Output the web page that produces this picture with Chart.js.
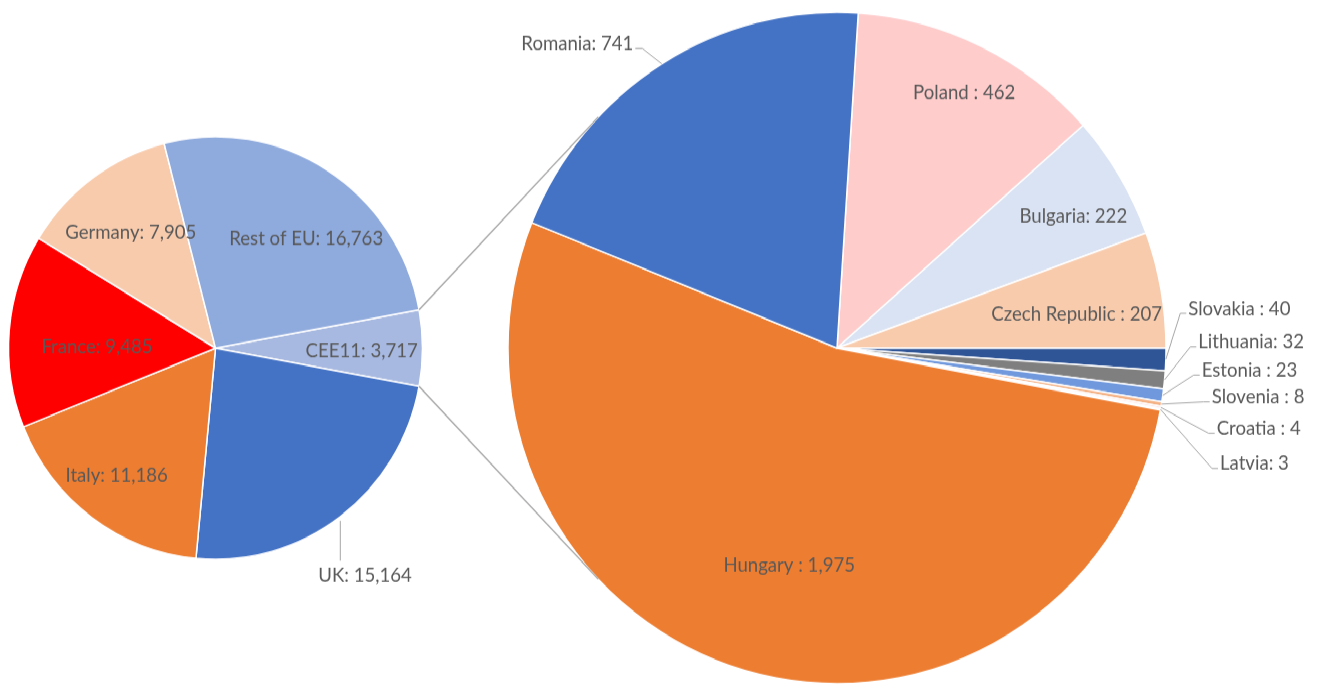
<!DOCTYPE html>
<html><head><meta charset="utf-8">
<script src="https://cdn.jsdelivr.net/npm/chart.js@4.4.1/dist/chart.umd.min.js"></script>
<style>
html,body{margin:0;padding:0;background:#fff;overflow:hidden;width:1321px;height:684px;}
#wrap{position:absolute;left:0;top:0;width:1321px;height:680px;transform:scaleY(1.0209);transform-origin:0 0;}
#wrap canvas{position:absolute;left:0;top:0;}
</style></head><body>
<div id="wrap"><canvas id="cee" width="1321" height="680"></canvas><canvas id="main" width="1321" height="680"></canvas></div>
<script>
// ---- data ----
const mainLabels = ['CEE11', 'UK', 'Italy', 'France', 'Germany', 'Rest of EU'];
const mainValues = [3717, 15164, 11186, 9485, 7905, 16763];
const ceeLabels = ['Poland ', 'Bulgaria', 'Czech Republic ', 'Slovakia ', 'Lithuania', 'Estonia ', 'Slovenia ', 'Croatia ', 'Latvia', 'Hungary ', 'Romania'];
const ceeValues = [462, 222, 207, 40, 32, 23, 8, 4, 3, 1975, 741];

// ---- styles ----
const mainColors = ['#A7B9E1', '#4472C4', '#ED7D31', '#FF0000', '#F8CBAD', '#8FAADC'];
const ceeColors = ['#FFCCCC', '#DAE3F3', '#F8CBAD', '#2F5597', '#7F7F7F', '#6F98DD', '#F4B183', '#FFD9D9', '#FBE5D6', '#ED7D31', '#4472C4'];
const LABEL_COLOR = '#595959';
const LEADER_COLOR = '#A6A6A6';
const FONT_FAMILY = 'Lato, "Open Sans", sans-serif';

// label layout (offsets from pie centre, px)
const mainLayout = [
  {dx: 146.2, dy: 2.8},
  {dx: 102.8, dy: 222.3, align: 'left', leader: 'down'},
  {dx: -98.8, dy: 124.3},
  {dx: -118.5, dy: -2.1},
  {dx: -84.7, dy: -113.7},
  {dx: 90.7, dy: -107.6}
];
const ceeLayout = [
  {dx: 127.2, dy: -251.1},
  {dx: 236.3, dy: -129.3},
  {dx: 239.7, dy: -34},
  {dx: 351.3, dy: -39, align: 'left', leader: true},
  {dx: 361.3, dy: -6.3, align: 'left', leader: true},
  {dx: 364.7, dy: 21.4, align: 'left', leader: true},
  {dx: 374.7, dy: 47.6, align: 'left', leader: true},
  {dx: 379.7, dy: 78.6, align: 'left', leader: true},
  {dx: 383, dy: 112.8, align: 'left', leader: true},
  {dx: -47.8, dy: 212.5},
  {dx: -203.7, dy: -298.6, align: 'right', leader: true}
];

const FONT_SIZE = (function () {
  const c = document.createElement('canvas').getContext('2d');
  c.font = '20px ' + FONT_FAMILY;
  const w = c.measureText('Rest of EU: 16,763').width;
  return 20 * 154 / w;
})();

function fmt(v) { return v.toLocaleString('en-US'); }

function labelPlugin(id, layout) {
  return {
    id,
    afterDatasetsDraw(chart) {
      const ctx = chart.ctx;
      const arcs = chart.getDatasetMeta(0).data;
      const labels = chart.data.labels;
      const vals = chart.data.datasets[0].data;
      ctx.save();
      ctx.font = FONT_SIZE.toFixed(2) + 'px ' + FONT_FAMILY;
      ctx.fillStyle = LABEL_COLOR;
      ctx.textBaseline = 'alphabetic';
      arcs.forEach((arc, i) => {
        const p = arc.getProps(['x', 'y', 'startAngle', 'endAngle', 'outerRadius'], true);
        const L = layout[i];
        const text = labels[i] + ': ' + fmt(vals[i]);
        const tx = p.x + L.dx, ty = p.y + L.dy;
        if (L.leader) {
          const mid = (p.startAngle + p.endAngle) / 2;
          const ax = p.x + Math.cos(mid) * p.outerRadius;
          const ay = p.y + Math.sin(mid) * p.outerRadius;
          ctx.beginPath();
          ctx.strokeStyle = LEADER_COLOR;
          ctx.lineWidth = 1;
          if (L.leader === 'down') {
            ctx.moveTo(ax, ay + 4);
            ctx.lineTo(ax, ty - 14);
          } else if (L.align === 'left') {
            const ly = ty + 5;
            ctx.moveTo(ax, ay);
            ctx.lineTo(tx - 8, ly);
            ctx.lineTo(tx - 2, ly);
          } else {
            const ly = ty + 5;
            ctx.moveTo(ax, ay);
            ctx.lineTo(tx + 9, ly);
            ctx.lineTo(tx + 2, ly);
          }
          ctx.stroke();
        }
        ctx.textAlign = L.align || 'center';
        ctx.fillText(text, tx, ty + 0.358 * FONT_SIZE);
      });
      ctx.restore();
    }
  };
}

const sum = a => a.reduce((s, v) => s + v, 0);

// second pie (breakdown of CEE11)
const ceeChart = new Chart(document.getElementById('cee'), {
  type: 'pie',
  data: {
    labels: ceeLabels,
    datasets: [{data: ceeValues, backgroundColor: ceeColors, borderColor: '#ffffff', borderWidth: 1.5, hoverOffset: 0}]
  },
  options: {
    responsive: false,
    animation: false,
    events: [],
    rotation: 90 - sum(ceeValues.slice(0, 3)) / sum(ceeValues) * 360,
    layout: {padding: {left: 507.25, top: 11.25, right: 154.25, bottom: 9.25}},
    plugins: {legend: {display: false}, tooltip: {enabled: false}}
  },
  plugins: [labelPlugin('ceeLabels', ceeLayout)]
});

const connectorPlugin = {
  id: 'connectors',
  afterDatasetsDraw(chart) {
    const ctx = chart.ctx;
    const a = chart.getDatasetMeta(0).data[0].getProps(['x', 'y', 'startAngle', 'endAngle', 'outerRadius'], true);
    const b = ceeChart.getDatasetMeta(0).data[0].getProps(['x', 'y', 'outerRadius'], true);
    const R = b.outerRadius;
    const corners = [a.startAngle, a.endAngle].map(t => ({x: a.x + Math.cos(t) * a.outerRadius, y: a.y + Math.sin(t) * a.outerRadius}));
    ctx.save();
    ctx.strokeStyle = LEADER_COLOR;
    ctx.lineWidth = 1.4;
    corners.forEach((P, k) => {
      const vx = P.x - b.x, vy = P.y - b.y;
      const d = Math.hypot(vx, vy);
      const phi = Math.atan2(vy, vx);
      const al = Math.acos(R / d);
      const t1 = {x: b.x + R * Math.cos(phi + al), y: b.y + R * Math.sin(phi + al)};
      const t2 = {x: b.x + R * Math.cos(phi - al), y: b.y + R * Math.sin(phi - al)};
      const T = k === 0 ? (t1.y < t2.y ? t1 : t2) : (t1.y > t2.y ? t1 : t2);
      ctx.beginPath();
      ctx.moveTo(P.x, P.y);
      ctx.lineTo(T.x, T.y);
      ctx.stroke();
    });
    ctx.restore();
  }
};

// main pie
new Chart(document.getElementById('main'), {
  type: 'pie',
  data: {
    labels: mainLabels,
    datasets: [{data: mainValues, backgroundColor: mainColors, borderColor: '#ffffff', borderWidth: 1.5, hoverOffset: 0}]
  },
  options: {
    responsive: false,
    animation: false,
    events: [],
    rotation: 90 - (mainValues[0] / sum(mainValues) * 360) / 2,
    layout: {padding: {left: 7.75, top: 133.25, right: 897.75, bottom: 131.25}},
    plugins: {legend: {display: false}, tooltip: {enabled: false}}
  },
  plugins: [connectorPlugin, labelPlugin('mainLabels', mainLayout)]
});
</script>
</body></html>
